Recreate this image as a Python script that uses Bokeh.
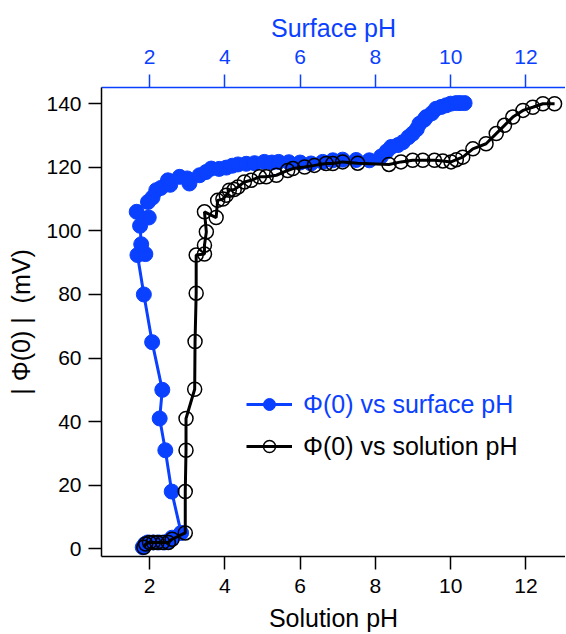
from bokeh.plotting import figure
from bokeh.models import LinearAxis, Legend, LegendItem, Range1d, FixedTicker
from bokeh.embed import file_html
from bokeh.resources import INLINE

# ---- data ----
surface_ph = [1.82, 1.88, 1.95, 2.1, 2.25, 2.4, 2.52, 2.6, 2.84, 2.59, 2.42, 2.27, 2.34, 2.07, 1.85,
              1.68, 1.89, 1.78, 1.75, 1.98, 1.66, 1.96, 2.08, 2.18, 2.3, 2.49, 2.55, 2.8, 3.06, 3.0,
              3.33, 3.5, 3.64, 3.85, 4.04, 4.2, 4.35, 4.57, 4.79, 5.05, 5.25, 5.43, 5.7, 6.0, 6.29,
              6.6, 6.87, 7.13, 7.49, 7.84, 8.15, 8.3, 8.42, 8.6, 8.73, 8.88, 8.99, 9.1, 9.17, 9.3,
              9.35, 9.5, 9.61, 9.75, 9.88, 10.0, 10.15, 10.25, 10.37]
surface_mv = [0.5, 1.5, 2, 2, 2, 2, 2.5, 3.5, 5, 18, 31, 41, 50, 65, 80,
              92.4, 92.7, 95.8, 101.6, 104.2, 106, 109.1, 110.5, 112.8, 113.5, 115.9, 114.5, 117, 114.9, 116.5,
              117.5, 118.5, 119.6, 119.5, 119.9, 120.5, 120.9, 121.1, 121.3, 121.7, 121.5, 121.7, 121.6, 121.5, 121.2,
              121.7, 122.2, 122.4, 122.3, 122.2, 123.4, 125, 126.4, 127, 127.9, 129.5, 130.6, 132, 133.7, 135,
              135.8, 137, 138.4, 139, 139.5, 140, 140.2, 140.2, 140.2]

solution_ph = [1.85, 1.9, 2.0, 2.1, 2.2, 2.35, 2.5, 2.6, 2.95, 2.95, 2.97, 2.97, 3.2, 3.21, 3.24,
               3.24, 3.46, 3.46, 3.51, 3.46, 3.77, 3.81, 3.95, 4.04, 4.12, 4.25, 4.35, 4.52, 4.7, 4.92,
               5.1, 5.37, 5.67, 5.81, 6.12, 6.38, 6.69, 6.87, 7.13, 7.53, 8.36, 8.68, 8.99, 9.26, 9.57,
               9.79, 10.01, 10.15, 10.32, 10.59, 10.94, 11.21, 11.43, 11.65, 11.92, 12.18, 12.45, 12.76]
solution_mv = [0.5, 1.5, 2, 2, 2, 2, 2, 3, 5, 18, 31, 41, 50.2, 65.2, 80.4,
               92.4, 92.7, 95.5, 99.7, 106, 104.2, 109.6, 110, 111.2, 112.8, 113, 113.8, 115.4, 115.9, 117,
               117, 117.5, 119, 119.6, 120.1, 120.6, 121.2, 121.2, 121.7, 121.3, 120.9, 121.7, 122.2, 122.2, 122.2,
               122, 121.7, 122.4, 123.2, 125.8, 127.4, 130.6, 133.2, 135.8, 137.9, 138.9, 140, 140]

x_ticks = [2, 4, 6, 8, 10, 12]
y_ticks = [0, 20, 40, 60, 80, 100, 120, 140]

BLUE = "#0a40ff"
FONT = "Liberation Sans"

p = figure(width=565, height=634, output_backend="svg", toolbar_location=None,
           x_range=Range1d(0.725, 13.05), y_range=Range1d(-2.42, 145.1),
           min_border_left=101, min_border_right=0, min_border_top=87, min_border_bottom=77)
p.outline_line_color = None
p.grid.visible = False
p.background_fill_color = "white"
p.border_fill_color = "white"


def style(ax, color="black"):
    ax.major_tick_in = 0
    ax.major_tick_out = 13
    ax.minor_tick_in = 0
    ax.minor_tick_out = 0
    ax.axis_line_width = 1.5
    ax.axis_line_color = color
    ax.major_tick_line_width = 1.5
    ax.major_tick_line_color = color
    ax.major_label_text_font = FONT
    ax.major_label_text_font_size = "21px"
    ax.major_label_text_color = color
    ax.major_label_standoff = 7
    ax.axis_label_text_font = FONT
    ax.axis_label_text_font_size = "25px"
    ax.axis_label_text_font_style = "normal"
    ax.axis_label_text_color = color
    ax.axis_label_standoff = 6


xa = p.xaxis[0]
xa.ticker = FixedTicker(ticks=x_ticks)
xa.axis_label = "Solution pH"
style(xa)
xa.major_label_standoff = 9
xa.axis_label_standoff = 8

ya = p.yaxis[0]
ya.ticker = FixedTicker(ticks=y_ticks)
ya.axis_label = "|\u00a0\u03a6(0)\u00a0|\u00a0\u00a0(mV)"
style(ya)
ya.axis_label_standoff = 8

top = LinearAxis(ticker=FixedTicker(ticks=x_ticks), axis_label="Surface pH")
style(top, BLUE)
top.major_label_standoff = 11
top.axis_label_standoff = 5
p.add_layout(top, "above")

# blue: surface pH
bl = p.line(surface_ph, surface_mv, line_color=BLUE, line_width=3)
bs = p.scatter(surface_ph, surface_mv, size=15, fill_color=BLUE, line_color=BLUE)

# black: solution pH
kl = p.line(solution_ph, solution_mv, line_color="black", line_width=3)
ks = p.scatter(solution_ph, solution_mv, size=14, fill_alpha=0, line_color="black", line_width=1.5)


def make_legend(label, rends, color, loc):
    leg = Legend(items=[LegendItem(label=label, renderers=rends)], location=loc,
                 glyph_width=46, glyph_height=30, label_height=30, label_standoff=11,
                 padding=0, margin=0, border_line_color=None, background_fill_alpha=0,
                 label_text_font=FONT, label_text_font_size="25px", label_text_color=color)
    p.add_layout(leg)


make_legend("\u03a6(0) vs surface pH", [bl, bs], BLUE, (145, 137))
make_legend("\u03a6(0) vs solution pH", [kl, ks], "black", (145, 95))

open("out.html", "w").write(file_html(p, INLINE))
